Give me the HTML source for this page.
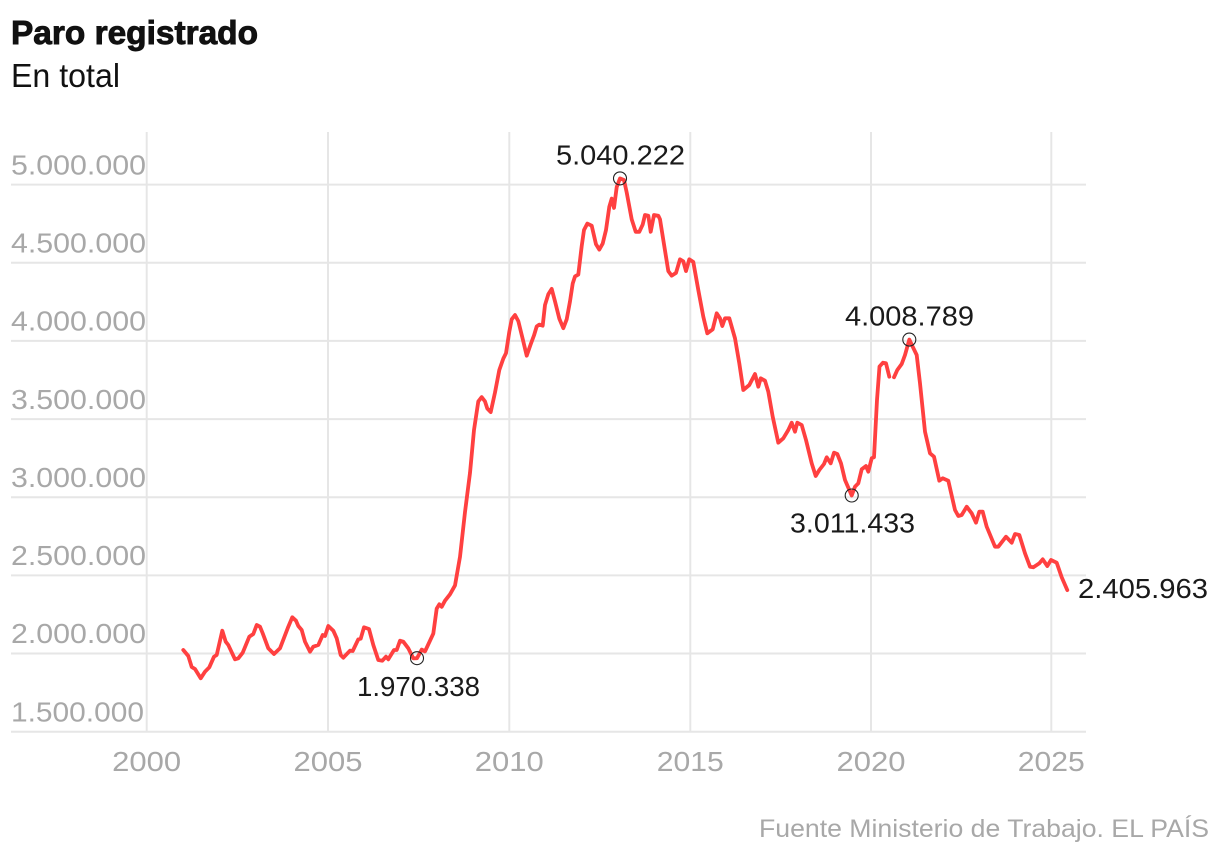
<!DOCTYPE html>
<html>
<head>
<meta charset="utf-8">
<style>
  html, body { margin: 0; padding: 0; background: #ffffff; }
  body { width: 1220px; height: 858px; overflow: hidden; }
  svg { display: block; }
  text { font-family: "Liberation Sans", Arial, sans-serif; }
</style>
</head>
<body>
<svg width="1220" height="858" viewBox="0 0 1220 858" xmlns="http://www.w3.org/2000/svg">
  <rect width="1220" height="858" fill="#ffffff"/>

  <!-- Title -->
  <text x="11" y="44" font-size="33" font-weight="bold" fill="#111111" stroke="#111111" stroke-width="0.9" textLength="247" lengthAdjust="spacingAndGlyphs">Paro registrado</text>
  <text x="11" y="87" font-size="33" fill="#111111" textLength="109" lengthAdjust="spacingAndGlyphs">En total</text>

  <!-- Gridlines -->
  <g stroke="#e6e6e6" stroke-width="2" fill="none">
    <line x1="146.7" y1="132" x2="146.7" y2="732"/>
    <line x1="328" y1="132" x2="328" y2="732"/>
    <line x1="509.3" y1="132" x2="509.3" y2="732"/>
    <line x1="690.3" y1="132" x2="690.3" y2="732"/>
    <line x1="871" y1="132" x2="871" y2="732"/>
    <line x1="1051.3" y1="132" x2="1051.3" y2="732"/>

    <line x1="11" y1="184.6" x2="1086" y2="184.6"/>
    <line x1="11" y1="262.8" x2="1086" y2="262.8"/>
    <line x1="11" y1="340.9" x2="1086" y2="340.9"/>
    <line x1="11" y1="419.1" x2="1086" y2="419.1"/>
    <line x1="11" y1="497.2" x2="1086" y2="497.2"/>
    <line x1="11" y1="575.4" x2="1086" y2="575.4"/>
    <line x1="11" y1="653.5" x2="1086" y2="653.5"/>
    <line x1="11" y1="731.7" x2="1086" y2="731.7"/>
  </g>

  <!-- Y labels -->
  <g font-size="28" fill="#a8a8a8">
    <text x="11" y="174.3" textLength="135" lengthAdjust="spacingAndGlyphs">5.000.000</text>
    <text x="11" y="252.5" textLength="135" lengthAdjust="spacingAndGlyphs">4.500.000</text>
    <text x="11" y="330.6" textLength="135" lengthAdjust="spacingAndGlyphs">4.000.000</text>
    <text x="11" y="408.8" textLength="135" lengthAdjust="spacingAndGlyphs">3.500.000</text>
    <text x="11" y="486.9" textLength="135" lengthAdjust="spacingAndGlyphs">3.000.000</text>
    <text x="11" y="565.1" textLength="135" lengthAdjust="spacingAndGlyphs">2.500.000</text>
    <text x="11" y="643.2" textLength="135" lengthAdjust="spacingAndGlyphs">2.000.000</text>
    <text x="11" y="721.4" textLength="133" lengthAdjust="spacingAndGlyphs">1.500.000</text>
  </g>

  <!-- X labels -->
  <g font-size="28" fill="#a8a8a8" text-anchor="middle">
    <text x="146.7" y="771" textLength="69" lengthAdjust="spacingAndGlyphs">2000</text>
    <text x="328" y="771" textLength="69" lengthAdjust="spacingAndGlyphs">2005</text>
    <text x="509.3" y="771" textLength="69" lengthAdjust="spacingAndGlyphs">2010</text>
    <text x="690.3" y="771" textLength="67" lengthAdjust="spacingAndGlyphs">2015</text>
    <text x="871" y="771" textLength="69" lengthAdjust="spacingAndGlyphs">2020</text>
    <text x="1051.3" y="771" textLength="67" lengthAdjust="spacingAndGlyphs">2025</text>
  </g>

  <!-- Series -->
  <g fill="none" stroke="#ff4040" stroke-width="3.8" stroke-linejoin="round" stroke-linecap="round">
    <path d="M183.3,650 L188.3,656 L191.7,667 L195,669 L200.7,678.3 L205,671.7 L209.3,667.3 L214,656.7 L216.7,655 L222.3,630.7 L225.7,641.7 L228.3,645 L235,659.3 L238.3,658.3 L242.7,652.7 L249.3,636.7 L253.3,634 L256.7,625 L260,626.7 L262.7,633.3 L268.3,648.3 L274,654 L280,648.3 L288.3,626.7 L292.3,617.3 L296,620.7 L298.3,626 L301.7,630 L305,641.7 L310,651.7 L313.3,646.7 L318.3,645 L322.7,635 L325,636 L328.3,626 L333.3,630.7 L336.7,638.3 L340.7,655 L343.3,657.7 L350,650.7 L352.7,651 L358.3,639.3 L360.7,638.7 L364,627.3 L369,629 L373.3,645 L378.3,660 L382.3,660.7 L386,656.7 L388.3,659.3 L394,650 L396.7,650 L400,640.7 L403.3,641.7 L408.3,648.3 L413.3,658.3 L417,658.2 L421.7,649.6 L425,651.4 L433.3,633.6 L436.7,608.6 L439.3,604.3 L441.7,606.8 L445,600.7 L450,594.3 L455,585.4 L460,556.8 L465,512.1 L470,472.9 L474,430 L478.3,401.4 L481.7,397.1 L485,401.4 L487.3,408.6 L490.7,412.1 L495,392.5 L499.3,370 L503.3,358.6 L506,353.2 L509.3,331.8 L511.7,319.3 L515,315 L518.3,321.1 L522.7,338.9 L526.7,355.7 L530.7,344.3 L534,335.4 L536.7,326.4 L539.3,324.6 L542.7,325.7 L545,305 L548.3,294.3 L551.7,288.9 L555,301.4 L559.3,318.6 L563.3,328.2 L566.7,319.3 L570,301.4 L572.7,283.6 L575,276.4 L578.3,274.6 L581.7,246.1 L584,230 L587.3,223.6 L591.7,225.7 L596,244.3 L599.3,249.6 L602.7,243.6 L606,230 L609.3,206.8 L611.7,198.6 L614,207.9 L616.7,187.1 L620,178.4 L624,180 L626.7,192.5 L631.7,219.3 L635.7,231.8 L639.3,231.8 L642.7,224.6 L645,215 L648.3,215.7 L650.7,231.8 L654,215 L658.3,215.7 L660,219.3 L664,244.3 L668.3,271.1 L671.7,275.7 L676,272.9 L680,259.3 L683.3,261.4 L686,271.1 L689.3,259.3 L693.3,262 L698.3,290 L703.3,316.7 L707.3,333.3 L712.7,329.3 L716.7,313.3 L720,318.3 L722.3,326 L725,318.3 L729.3,318.3 L735,338.3 L739.3,363.3 L743.3,390 L749.3,385 L755,374 L758.3,386.7 L760.7,378.3 L765,380.7 L768.3,391.7 L772.7,416.7 L778.3,442.7 L783.3,438.3 L788.3,430 L791.7,422.7 L795,431.7 L797.3,422.7 L801.7,425 L806,440 L811.7,463.3 L815.7,476 L819.3,470 L824,464 L826.7,457.3 L830.7,463.3 L834,452.7 L837.3,454 L841,463.3 L845,480 L851.7,495.5 L855,486.7 L858.3,483.3 L861.7,469.3 L866,466 L868.3,471.7 L871.7,458.3 L874,457.3 L877,400 L879.5,366.5 L883,362.7 L886,363.3 L889.3,376.7"/>
    <path d="M894,377.3 L897.3,370 L901.7,364 L905,355 L909.3,339.6 L912.7,346.7 L916.7,355 L920,383.3 L925,431.7 L930,453.3 L934,456.7 L939.3,480.7 L942.7,478.3 L948.3,480.7 L955,510 L958.3,516 L961.7,515 L966.7,506.7 L971.7,513.3 L976,522.7 L979.3,511.7 L982.7,511.7 L986.7,526.7 L995,546.7 L998.3,546.7 L1006,536.7 L1011.7,542.7 L1015,534 L1019.3,535 L1025,553.3 L1030,566.7 L1033.3,567.3 L1039.3,563.3 L1042.7,559.3 L1047.3,566 L1051,560 L1056.7,562.7 L1061.7,577.3 L1067.3,590.1"/>
  </g>

  <!-- Markers -->
  <g fill="none" stroke="#222222" stroke-width="1.1">
    <circle cx="417" cy="658.2" r="6.5"/>
    <circle cx="620" cy="178.4" r="6.5"/>
    <circle cx="851.7" cy="495.5" r="6.5"/>
    <circle cx="909.3" cy="339.6" r="6.5"/>
  </g>

  <!-- Annotations -->
  <g font-size="28" fill="#1a1a1a">
    <text x="556" y="164.6" textLength="129" lengthAdjust="spacingAndGlyphs">5.040.222</text>
    <text x="845" y="325.7" textLength="129" lengthAdjust="spacingAndGlyphs">4.008.789</text>
    <text x="790" y="532.3" textLength="125" lengthAdjust="spacingAndGlyphs">3.011.433</text>
    <text x="357" y="696" textLength="123" lengthAdjust="spacingAndGlyphs">1.970.338</text>
    <text x="1078" y="598" textLength="130" lengthAdjust="spacingAndGlyphs">2.405.963</text>
  </g>

  <!-- Source -->
  <text x="759" y="837" font-size="25" fill="#a8a8a8" textLength="450" lengthAdjust="spacingAndGlyphs">Fuente Ministerio de Trabajo. EL PAÍS</text>
</svg>
</body>
</html>
